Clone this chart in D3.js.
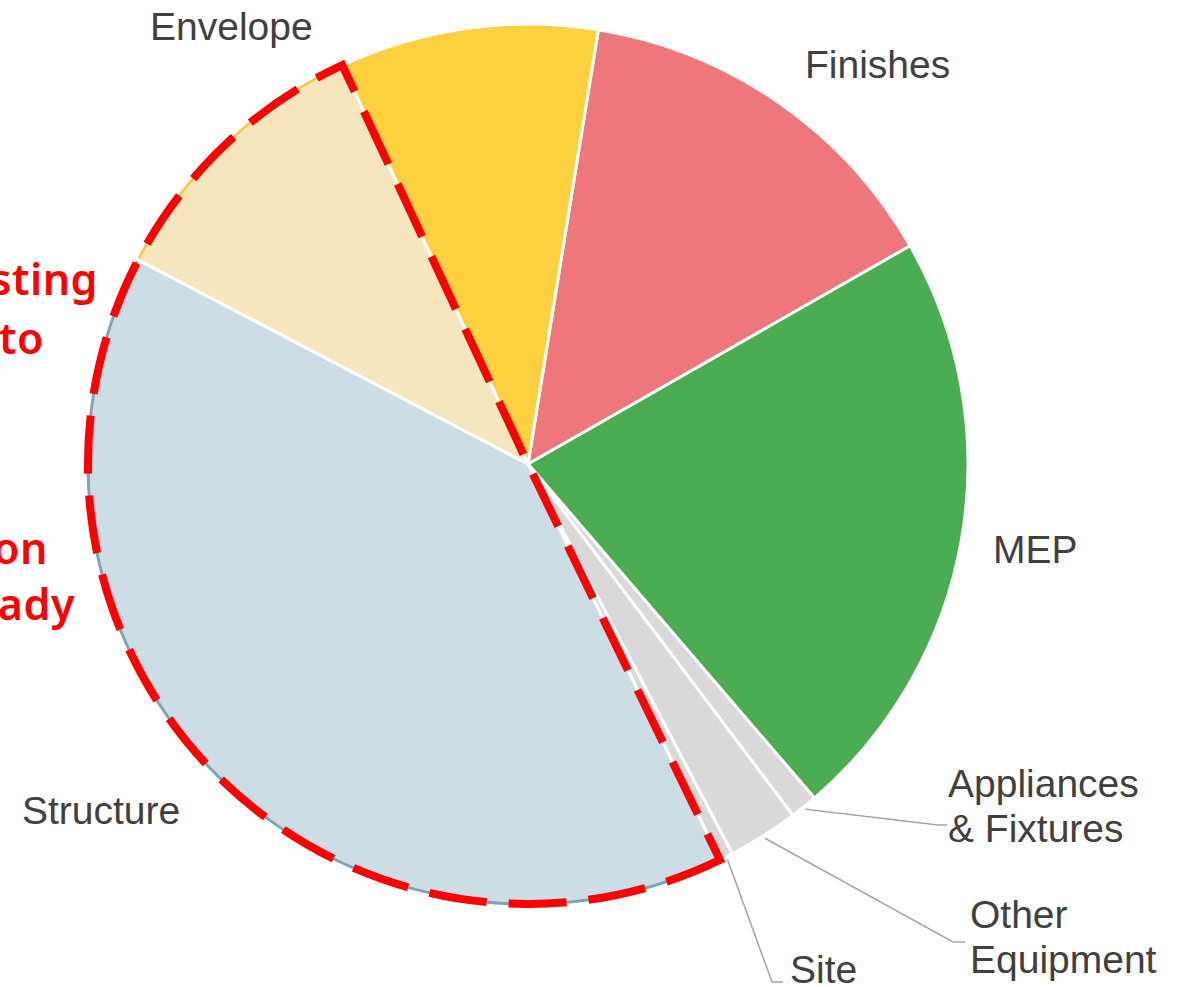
<!DOCTYPE html>
<html>
<head>
  <title>Embodied carbon by building element</title>
  <script src="https://d3js.org/d3.v7.min.js"></script>
  <style>
    body { margin: 0; background: #fff; }
    .label { font-family: "Liberation Sans", Arial, sans-serif; font-size: 39px; fill: #404040; }
    .note { font-family: "Noto Sans", "Open Sans", sans-serif; font-size: 43px; font-weight: 600; letter-spacing: 0.5px; fill: #ff0000; }
    .leader { fill: none; stroke: #a6a6a6; stroke-width: 1.6; }
  </style>
</head>
<body>
  <div id="chart"></div>

  <script>
    // slices, clockwise starting from the Finishes wedge
    const categories = ["Finishes", "MEP", "Appliances & Fixtures", "Other Equipment", "Site",
                        "Structure", "Envelope (existing)", "Envelope"];
    const shares = [14.2, 22.0, 1.0, 2.6, 0.5, 39.9, 10.4, 9.5];
    const sliceColors = ["#ef777b", "#4bad52", "#d9d9d9", "#d9d9d9", "#d9d9d9",
                         "#ccdde6", "#f5e6be", "#fdd03f"];

    // the part of the building that is kept (dashed outline)
    const keptSlices = ["Structure", "Envelope (existing)"];

    // red note, cut off at the left edge of the slide
    const noteLines = ["Existing", "structure to", "Embodied carbon", "already"];

    const width = 1189, height = 987;
    const cx = 528, cy = 464, radius = 440;
    const startDeg = 9.2;

    const svg = d3.select("#chart")
      .append("svg")
      .attr("width", width)
      .attr("height", height);

    const g = svg.append("g")
      .attr("transform", "translate(" + cx + "," + cy + ")");

    const data = categories.map((c, i) => ({ name: c, value: shares[i], color: sliceColors[i] }));

    const pie = d3.pie()
      .sort(null)
      .value(d => d.value)
      .startAngle(startDeg * Math.PI / 180)
      .endAngle(startDeg * Math.PI / 180 + 2 * Math.PI);

    const arcs = pie(data);
    const arc = d3.arc().innerRadius(0).outerRadius(radius);

    // slices
    g.selectAll(".slice")
      .data(arcs)
      .enter()
      .append("path")
      .attr("class", "slice")
      .attr("d", arc)
      .attr("fill", d => d.data.color)
      .attr("stroke", "#fff")
      .attr("stroke-width", 3)
      .attr("stroke-linejoin", "round");

    // thin coloured rim on the kept slices
    const rimColors = { "Structure": "#7fa2b6", "Envelope (existing)": "#f3cd4a" };
    const rim = d3.arc().innerRadius(radius - 1.5).outerRadius(radius + 1.5);
    g.selectAll(".rim")
      .data(arcs.filter(d => rimColors[d.data.name]))
      .enter()
      .append("path")
      .attr("d", d => rim({ startAngle: d.startAngle + 0.004, endAngle: d.endAngle - 0.004 }))
      .attr("fill", d => rimColors[d.data.name]);

    // red dashed outline around the kept slices
    const kept = arcs.filter(d => keptSlices.includes(d.data.name));
    const keptStart = d3.min(kept, d => d.startAngle);
    const keptEnd = d3.max(kept, d => d.endAngle);
    const outline = d3.arc().innerRadius(0).outerRadius(radius);
    g.append("path")
      .attr("d", outline({ startAngle: keptStart, endAngle: keptEnd }))
      .attr("fill", "none")
      .attr("stroke", "#ff0000")
      .attr("stroke-width", 8)
      .attr("stroke-dasharray", "58,22")
      .attr("stroke-linejoin", "miter");

    // labels (placed by hand like the slide)
    const labelLayout = {
      "Finishes": { x: 805, y: 78 },
      "MEP": { x: 993, y: 563 },
      "Structure": { x: 22, y: 824 },
      "Envelope": { x: 150, y: 40 },
      "Appliances & Fixtures": { x: 948, y: 797, lines: ["Appliances", "& Fixtures"], elbow: [938, 825], end: [947, 825] },
      "Other Equipment": { x: 970, y: 928, lines: ["Other", "Equipment"], elbow: [953, 942], end: [965, 942] },
      "Site": { x: 790, y: 983, elbow: [772, 982], end: [783, 982] }
    };
    const lineGap = 45;

    arcs.forEach(function(d) {
      const lay = labelLayout[d.data.name];
      if (!lay) return;
      const lines = lay.lines || [d.data.name];
      const t = svg.append("text")
        .attr("class", "label")
        .attr("x", lay.x)
        .attr("y", lay.y);
      lines.forEach(function(l, i) {
        t.append("tspan")
          .attr("x", lay.x)
          .attr("dy", i === 0 ? 0 : lineGap)
          .text(l);
      });

      if (lay.elbow) {
        const mid = (d.startAngle + d.endAngle) / 2;
        const sx = cx + Math.sin(mid) * (radius + 3);
        const sy = cy - Math.cos(mid) * (radius + 3);
        svg.append("path")
          .attr("class", "leader")
          .attr("d", d3.line()([[sx, sy], lay.elbow, lay.end]));
      }
    });

    // red note text, right ends visible only
    const noteEnds = [[98, 295], [44, 354], [48, 564], [75, 620]];
    noteLines.forEach(function(l, i) {
      svg.append("text")
        .attr("class", "note")
        .attr("x", noteEnds[i][0])
        .attr("y", noteEnds[i][1])
        .attr("text-anchor", "end")
        .text(l);
    });
  </script>
</body>
</html>
